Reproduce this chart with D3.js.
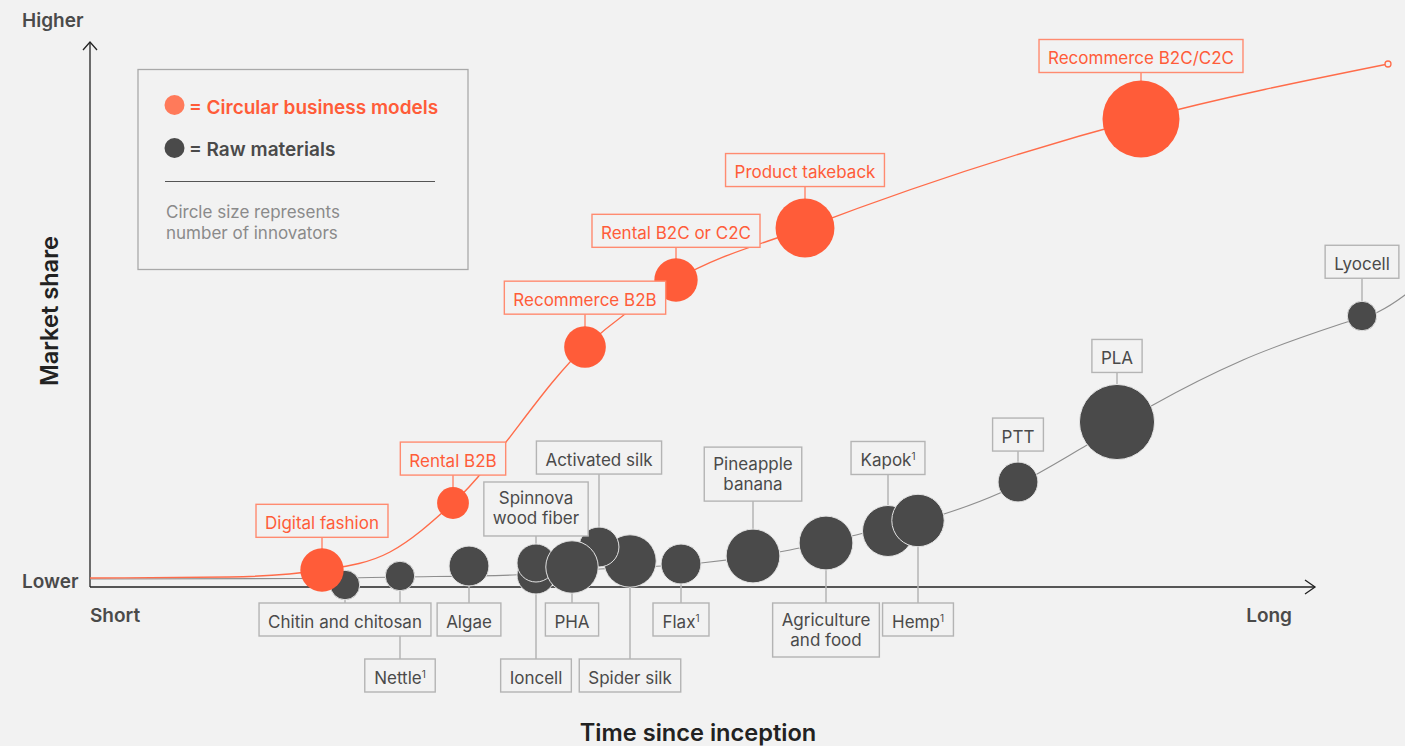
<!DOCTYPE html>
<html>
<head>
<meta charset="utf-8">
<script src="https://cdn.jsdelivr.net/npm/d3@7"></script>
<style>
  html, body { margin: 0; padding: 0; background: #f2f2f2; }
  svg { display: block; font-family: Inter, Lato, sans-serif; }
</style>
</head>
<body>
<svg id="chart" width="1405" height="746"></svg>
<script>
// ---- Data -------------------------------------------------------------
// Time since inception (arbitrary units) and market share (arbitrary units)

// Circular business models
const circularNames = ["Digital fashion", "Rental B2B", "Recommerce B2B", "Rental B2C or C2C", "Product takeback", "Recommerce B2C/C2C"];
const circularTime = [23.2, 36.3, 49.5, 58.6, 71.5, 105.1];
const circularShare = [3.4, 16.8, 48.0, 61.4, 71.8, 93.6];
const circularInnovators = [13, 7, 12, 13, 24, 41];

// Raw materials (listed back to front)
const rawNames = ["Chitin and chitosan", "Nettle¹", "Algae", "Ioncell", "Spinnova\nwood fiber", "Spider silk", "Activated silk", "PHA", "Flax¹", "Pineapple\nbanana", "Agriculture\nand food", "Kapok¹", "Hemp¹", "PTT", "PLA", "Lyocell"];
const rawTime = [25.5, 31.0, 37.9, 44.6, 44.6, 54.0, 50.9, 48.2, 59.1, 66.3, 73.6, 79.8, 82.8, 92.8, 102.7, 127.2];
const rawShare = [0.4, 2.2, 4.2, 2.4, 4.8, 5.2, 8.0, 4.0, 4.6, 6.2, 8.8, 11.2, 13.3, 21.0, 33.0, 54.2];
const rawInnovators = [6, 6, 11, 10, 10, 19, 11, 19, 11, 20, 20, 18, 19, 11, 39, 6];

// Adoption curves
const circularCurveTime = [0, 14, 23.2, 30, 36.3, 49.5, 58.6, 71.5, 105.1, 129.8];
const circularCurveShare = [1.8, 2.0, 3.4, 7.0, 16.8, 48.0, 61.4, 71.8, 93.6, 104.6];
const rawCurveTime = [0, 21, 31, 42.3, 51, 61.1, 70, 77, 85.4, 91, 99.7, 106.3, 115.3, 125.7, 128.8, 131.5, 133];
const rawCurveShare = [1.6, 1.7, 2.0, 2.4, 3.6, 4.8, 7.4, 10.6, 14.6, 18.8, 28.4, 36.4, 45.4, 53.0, 55.0, 58.4, 60.8];

// Axis end labels
const yTickLabels = ["Lower", "Higher"];
const xTickLabels = ["Short", "Long"];

// ---- Label placement ----------------------------------------------------
// above: gap between circle top and box bottom; below: row under the axis
const labelPlacement = {
  "Digital fashion": { side: "above", gap: 11 },
  "Rental B2B": { side: "above", gap: 12 },
  "Recommerce B2B": { side: "above", gap: 12 },
  "Rental B2C or C2C": { side: "above", gap: 11 },
  "Product takeback": { side: "above", gap: 12 },
  "Recommerce B2C/C2C": { side: "above", gap: 8 },
  "Chitin and chitosan": { side: "below", row: 0 },
  "Nettle¹": { side: "below", row: 1 },
  "Algae": { side: "below", row: 0 },
  "Ioncell": { side: "below", row: 1 },
  "Spinnova\nwood fiber": { side: "above", gap: 8 },
  "Spider silk": { side: "below", row: 1 },
  "Activated silk": { side: "above", gap: 53 },
  "PHA": { side: "below", row: 0 },
  "Flax¹": { side: "below", row: 0 },
  "Pineapple\nbanana": { side: "above", gap: 28 },
  "Agriculture\nand food": { side: "below", row: 0 },
  "Kapok¹": { side: "above", gap: 31 },
  "Hemp¹": { side: "below", row: 0 },
  "PTT": { side: "above", gap: 11 },
  "PLA": { side: "above", gap: 12 },
  "Lyocell": { side: "above", gap: 23 }
};

// ---- Setup --------------------------------------------------------------
const ORANGE = "#ff5c39";
const ORANGE_LINE = "#ff6c4a";
const ORANGE_BOX = "#ff8b70";
const DARK = "#4a4a4a";
const GREY_LINE = "#8e8e8e";
const GREY_BOX = "#b4b4b4";
const BG = "#f2f2f2";
const LABEL_SIZE = 17;

const svg = d3.select("#chart");
const x = d3.scaleLinear().domain([0, 122.5]).range([90, 1315]);
const y = d3.scaleLinear().domain([0, 109]).range([587, 42]);
const r = d3.scaleSqrt().domain([0, 41]).range([0, 38.5]);

const circular = circularNames.map((name, i) => ({ name, t: circularTime[i], s: circularShare[i], n: circularInnovators[i], kind: "circular" }));
const raw = rawNames.map((name, i) => ({ name, t: rawTime[i], s: rawShare[i], n: rawInnovators[i], kind: "raw" }));

// ---- Axes ---------------------------------------------------------------
const axes = svg.append("g").attr("stroke", "#222").attr("stroke-width", 1.3).attr("fill", "none");
const x0 = x(0), x1 = x(122.5), y0 = y(0), y1 = y(109);
axes.append("line").attr("x1", x0).attr("y1", y0).attr("x2", x1).attr("y2", y0);
axes.append("line").attr("x1", x0).attr("y1", y0).attr("x2", x0).attr("y2", y1);
axes.append("path").attr("d", `M${x1 - 10},${y0 - 7}L${x1},${y0}L${x1 - 10},${y0 + 7}`);
axes.append("path").attr("d", `M${x0 - 7},${y1 + 8}L${x0},${y1}L${x0 + 7},${y1 + 8}`);

const tickStyle = s => s.attr("font-size", 19).attr("font-weight", 600).attr("fill", DARK);
svg.append("text").attr("x", 22).attr("y", y(0) + 1).text(yTickLabels[0]).call(tickStyle);
svg.append("text").attr("x", 22).attr("y", 27).text(yTickLabels[1]).call(tickStyle);
svg.append("text").attr("x", x(0)).attr("y", 622).text(xTickLabels[0]).call(tickStyle);
svg.append("text").attr("x", 1292).attr("y", 622).attr("text-anchor", "end").text(xTickLabels[1]).call(tickStyle);

svg.append("text").attr("x", 698).attr("y", 740.5).attr("text-anchor", "middle")
  .attr("font-size", 23.6).attr("font-weight", 600).attr("fill", "#222").text("Time since inception");
svg.append("text").attr("transform", "translate(58,311) rotate(-90)").attr("text-anchor", "middle")
  .attr("font-size", 23.6).attr("font-weight", 600).attr("fill", "#222").text("Market share");

// ---- Curves -------------------------------------------------------------
const line = d3.line().x(d => x(d[0])).y(d => y(d[1])).curve(d3.curveMonotoneX);
svg.append("path").attr("d", line(rawCurveTime.map((t, i) => [t, rawCurveShare[i]])))
  .attr("fill", "none").attr("stroke", GREY_LINE).attr("stroke-width", 1.1);
svg.append("path").attr("d", line(circularCurveTime.map((t, i) => [t, circularCurveShare[i]])))
  .attr("fill", "none").attr("stroke", ORANGE_LINE).attr("stroke-width", 1.4);
const lastT = circularCurveTime[circularCurveTime.length - 1];
const lastS = circularCurveShare[circularCurveShare.length - 1];
svg.append("circle").attr("cx", x(lastT)).attr("cy", y(lastS)).attr("r", 3)
  .attr("fill", BG).attr("stroke", ORANGE_LINE).attr("stroke-width", 1.3);

// ---- Labels geometry ----------------------------------------------------
const ROW_TOP = [y(0) + 16, y(0) + 72];
const PAD = 9;
const LINE_H = 20;

const measurer = svg.append("text").attr("font-size", LABEL_SIZE).attr("visibility", "hidden");
function textWidth(str) {
  measurer.text(str);
  return measurer.node().getComputedTextLength();
}

function layout(d) {
  const lines = d.name.split("\n");
  const w = d3.max(lines.map(l => textWidth(l.replace("¹", "")) + (l.endsWith("¹") ? 5 : 0))) + PAD * 2;
  const h = lines.length > 1 ? 54 : 33;
  const cx = x(d.t), cy = y(d.s), rad = r(d.n);
  const p = labelPlacement[d.name];
  const top = p.side === "above" ? cy - rad - p.gap - h : ROW_TOP[p.row];
  return { ...d, lines, w, h, cx, cy, rad, top, side: p.side };
}

const all = raw.map(layout).concat(circular.map(layout));

// connectors
svg.append("g").selectAll("line").data(all).join("line")
  .attr("x1", d => d.cx).attr("x2", d => d.cx)
  .attr("y1", d => d.cy)
  .attr("y2", d => d.side === "above" ? d.top + d.h : d.top)
  .attr("stroke", d => d.kind === "circular" ? ORANGE_BOX : GREY_BOX)
  .attr("stroke-width", 1.5);

// ---- Circles ------------------------------------------------------------
svg.append("g").selectAll("circle").data(all.filter(d => d.kind === "raw")).join("circle")
  .attr("cx", d => d.cx).attr("cy", d => d.cy).attr("r", d => d.rad)
  .attr("fill", DARK).attr("stroke", "#e4e4e4").attr("stroke-width", 1);
svg.append("g").selectAll("circle").data(all.filter(d => d.kind === "circular")).join("circle")
  .attr("cx", d => d.cx).attr("cy", d => d.cy).attr("r", d => d.rad)
  .attr("fill", ORANGE);

// ---- Label boxes --------------------------------------------------------
const boxes = svg.append("g").selectAll("g").data(all).join("g");
boxes.append("rect")
  .attr("x", d => d.cx - d.w / 2).attr("y", d => d.top)
  .attr("width", d => d.w).attr("height", d => d.h)
  .attr("fill", BG)
  .attr("stroke", d => d.kind === "circular" ? ORANGE_BOX : GREY_BOX)
  .attr("stroke-width", 1.4);
boxes.each(function (d) {
  const g = d3.select(this);
  d.lines.forEach((l, i) => {
    const t = g.append("text")
      .attr("x", d.cx).attr("y", d.top + (d.lines.length > 1 ? 22.5 + i * LINE_H : 24.5))
      .attr("text-anchor", "middle").attr("font-size", LABEL_SIZE)
      .attr("fill", d.kind === "circular" ? ORANGE : DARK);
    if (l.endsWith("¹")) {
      t.append("tspan").text(l.slice(0, -1));
      t.append("tspan").attr("font-size", 10).attr("dy", -6).text("1");
    } else {
      t.text(l);
    }
  });
});

// ---- Legend -------------------------------------------------------------
const legend = svg.append("g");
legend.append("rect").attr("x", 138).attr("y", 69.5).attr("width", 330).attr("height", 200)
  .attr("fill", "none").attr("stroke", "#a9a9a9").attr("stroke-width", 1.3);
legend.append("circle").attr("cx", 174.5).attr("cy", 105).attr("r", 10).attr("fill", "#ff7a5a");
legend.append("text").attr("x", 189).attr("y", 114).attr("font-size", 19).attr("font-weight", 600)
  .attr("fill", ORANGE).text("= Circular business models");
legend.append("circle").attr("cx", 174.5).attr("cy", 148).attr("r", 10).attr("fill", DARK);
legend.append("text").attr("x", 189).attr("y", 155.5).attr("font-size", 19).attr("font-weight", 600)
  .attr("fill", DARK).text("= Raw materials");
legend.append("line").attr("x1", 165).attr("x2", 435).attr("y1", 181.5).attr("y2", 181.5)
  .attr("stroke", "#555").attr("stroke-width", 1);
legend.append("text").attr("x", 166).attr("y", 217.5).attr("font-size", 17).attr("fill", "#8a8a8a")
  .text("Circle size represents");
legend.append("text").attr("x", 166).attr("y", 238.5).attr("font-size", 17).attr("fill", "#8a8a8a")
  .text("number of innovators");
</script>
</body>
</html>
